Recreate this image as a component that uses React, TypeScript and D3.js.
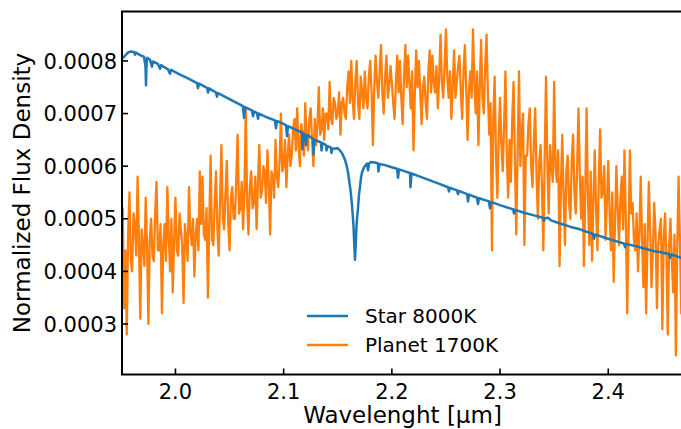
import { useEffect, useRef } from "react";
import * as d3 from "d3";

// flux values are in units of 1e-4
const planetStart = 1.95;
const planetStep = 0.00125;
const planetFlux = [
  4.6, 5.2, 3.3, 4.4, 2.8, 4.7, 5.5, 4.2, 4.0, 5.1, 4.9, 4.3, 5.8, 4.6, 3.1, 4.8, 4.5, 4.1, 5.4, 4.5,
  3.0, 4.6, 5.0, 4.3, 4.2, 5.1, 5.7, 4.4, 4.4, 4.9, 3.2, 4.5, 4.9, 4.2, 5.6, 4.7, 4.0, 5.0, 3.6, 4.6,
  5.4, 4.4, 4.3, 5.1, 4.8, 4.5, 3.4, 4.9, 4.6, 4.2, 5.6, 4.8, 4.5, 5.0, 3.9, 4.7, 5.0, 4.4, 5.9, 4.9,
  5.8, 4.7, 4.6, 5.2, 3.5, 4.9, 6.2, 4.6, 4.5, 5.3, 5.9, 4.8, 4.3, 5.4, 6.4, 5.0, 4.8, 5.5, 6.1, 4.9,
  4.4, 5.4, 5.6, 5.0, 5.0, 5.8, 6.6, 5.1, 5.2, 5.7, 4.8, 5.5, 7.1, 5.3, 4.7, 5.6, 5.9, 5.2, 5.3, 5.8,
  4.8, 5.7, 6.4, 5.4, 5.5, 6.0, 5.9, 5.3, 6.3, 5.7, 4.7, 5.9, 5.8, 5.4, 6.5, 5.8, 5.6, 6.1, 7.0, 5.9,
  6.0, 6.5, 5.6, 6.2, 6.6, 6.0, 6.2, 6.7, 6.9, 6.3, 7.1, 6.4, 6.0, 6.8, 6.6, 6.2, 7.2, 6.5, 6.3, 6.9,
  7.1, 6.5, 6.0, 6.9, 6.4, 6.8, 7.5, 6.6, 6.7, 7.1, 6.5, 7.0, 7.0, 6.7, 7.6, 6.9, 6.8, 7.3, 7.2, 6.9,
  7.0, 7.4, 6.6, 7.2, 7.3, 7.0, 6.9, 7.5, 7.8, 7.2, 8.0, 7.3, 6.9, 7.6, 8.0, 7.2, 6.9, 7.7, 7.4, 7.1,
  7.8, 7.3, 7.1, 7.7, 8.0, 7.4, 6.4, 7.5, 8.1, 7.6, 7.3, 7.8, 8.3, 7.4, 7.0, 7.7, 8.1, 7.3, 7.5, 7.9,
  7.6, 7.2, 6.9, 7.6, 8.1, 7.4, 8.0, 7.3, 6.8, 7.7, 8.3, 7.5, 8.1, 7.6, 7.1, 7.8, 6.3, 7.4, 8.2, 7.5,
  8.0, 7.4, 6.8, 7.5, 7.7, 7.2, 6.9, 7.8, 8.2, 7.4, 8.1, 7.6, 7.4, 7.9, 7.1, 7.7, 8.5, 7.6, 7.3, 7.9,
  8.6, 7.7, 7.3, 7.8, 6.9, 7.5, 8.2, 7.3, 7.6, 7.9, 8.1, 7.4, 6.9, 7.8, 8.3, 7.5, 6.5, 7.4, 7.8, 7.3,
  8.6, 7.6, 7.0, 7.8, 6.4, 7.5, 8.4, 7.3, 7.0, 7.9, 8.5, 7.4, 6.6, 7.2, 4.4, 6.9, 7.7, 6.2, 5.4, 6.6,
  7.3, 6.4, 5.9, 6.8, 7.8, 6.2, 5.4, 6.5, 5.7, 6.9, 7.6, 6.1, 4.7, 6.3, 7.8, 6.0, 6.6, 7.0, 4.5, 6.2,
  6.2, 6.8, 7.1, 6.0, 5.6, 6.5, 7.1, 5.8, 5.0, 6.1, 6.4, 5.6, 4.4, 6.2, 7.7, 6.0, 5.1, 6.4, 6.0, 5.7,
  7.6, 6.0, 5.7, 6.3, 4.1, 5.6, 6.6, 5.4, 4.5, 5.9, 6.2, 5.3, 5.0, 6.1, 6.6, 5.5, 5.1, 6.0, 7.1, 5.8,
  5.0, 5.8, 4.1, 5.5, 7.1, 5.4, 4.5, 5.9, 4.2, 5.3, 6.3, 5.2, 4.4, 5.7, 6.7, 5.4, 5.5, 6.0, 4.6, 5.3,
  6.1, 5.1, 4.4, 5.5, 3.8, 4.9, 6.0, 5.2, 4.5, 5.4, 5.8, 4.8, 6.3, 5.0, 3.2, 4.7, 6.3, 5.1, 5.3, 4.6,
  4.4, 5.1, 4.0, 4.7, 5.8, 4.6, 3.7, 4.9, 3.2, 4.5, 5.7, 4.8, 3.7, 4.4, 5.3, 4.7, 3.3, 4.5, 4.8, 5.0,
  2.9, 4.6, 5.1, 4.3, 2.8, 4.5, 5.0, 4.2, 3.6, 4.7, 2.4, 4.4, 5.8, 4.6, 3.2, 4.5,
];

const starWave = [
  1.9506, 1.9561, 1.9589, 1.9617, 1.9626, 1.9635, 1.9672, 1.9709, 1.9723, 1.9728,
  1.9732, 1.9737, 1.9765, 1.9783, 1.9792, 1.9839, 1.9857, 1.9866, 1.9931, 1.995,
  1.9959, 2.0042, 2.0107, 2.0199, 2.0208, 2.0218, 2.0292, 2.0301, 2.031, 2.0375,
  2.0384, 2.0393, 2.0504, 2.0624, 2.0634, 2.0643, 2.0707, 2.0717, 2.0726, 2.0754,
  2.0763, 2.0772, 2.0855, 2.092, 2.0929, 2.0938, 2.1022, 2.1031, 2.104, 2.1114,
  2.117, 2.1174, 2.1183, 2.1197, 2.1207, 2.1216, 2.1244, 2.1271, 2.1276, 2.1285,
  2.1345, 2.135, 2.1359, 2.1391, 2.1396, 2.1405, 2.1438, 2.1442, 2.1451, 2.1502,
  2.1539, 2.1567, 2.1581, 2.1595, 2.1613, 2.1623, 2.1632, 2.1646, 2.1653, 2.1659,
  2.1666, 2.1673, 2.168, 2.1687, 2.1696, 2.1706, 2.1715, 2.1724, 2.1743, 2.177,
  2.178, 2.1789, 2.1807, 2.1844, 2.1872, 2.1876, 2.1886, 2.1937, 2.1983, 2.2048,
  2.2057, 2.2066, 2.2122, 2.2168, 2.2172, 2.2182, 2.226, 2.2353, 2.2445, 2.2519,
  2.2528, 2.2537, 2.2602, 2.2611, 2.262, 2.2695, 2.2704, 2.2713, 2.2787, 2.2796,
  2.2806, 2.2898, 2.2907, 2.2916, 2.2999, 2.312, 2.3129, 2.3138, 2.323, 2.3323,
  2.3397, 2.3406, 2.3415, 2.3443, 2.3471, 2.3554, 2.3646, 2.3739, 2.3859, 2.3868,
  2.3877, 2.397, 2.4062, 2.4145, 2.4155, 2.4164, 2.4256, 2.434, 2.4432, 2.4478,
  2.4561, 2.4571, 2.458, 2.4617, 2.4672, 2.4709,
];
const starFlux = [
  8.04, 8.16, 8.18, 8.17, 8.12, 8.16, 8.11, 8.08, 7.9, 7.54,
  7.9, 8.06, 8.02, 7.89, 7.99, 7.94, 7.85, 7.92, 7.84, 7.76,
  7.83, 7.74, 7.68, 7.58, 7.48, 7.57, 7.49, 7.4, 7.48, 7.4,
  7.32, 7.39, 7.27, 7.14, 6.92, 7.12, 7.06, 6.95, 7.04, 7.01,
  6.9, 7.0, 6.92, 6.87, 6.72, 6.86, 6.78, 6.57, 6.76, 6.69,
  6.64, 6.32, 6.62, 6.6, 6.4, 6.59, 6.56, 6.52, 6.22, 6.5,
  6.45, 6.3, 6.44, 6.4, 6.3, 6.38, 6.35, 6.25, 6.33, 6.34,
  6.25, 6.12, 6.02, 5.88, 5.62, 5.45, 5.25, 4.85, 4.5, 4.22,
  4.5, 4.85, 5.05, 5.2, 5.45, 5.62, 5.78, 5.88, 5.98, 6.05,
  5.92, 6.05, 6.08, 6.07, 6.05, 5.9, 6.04, 6.02, 5.99, 5.95,
  5.78, 5.94, 5.9, 5.87, 5.6, 5.86, 5.8, 5.73, 5.66, 5.6,
  5.52, 5.59, 5.54, 5.47, 5.53, 5.47, 5.33, 5.46, 5.4, 5.28,
  5.39, 5.33, 5.2, 5.32, 5.26, 5.18, 5.1, 5.17, 5.11, 5.06,
  5.02, 4.96, 5.01, 5.02, 4.97, 4.91, 4.85, 4.8, 4.71, 4.62,
  4.7, 4.64, 4.58, 4.53, 4.46, 4.52, 4.48, 4.43, 4.38, 4.37,
  4.33, 4.26, 4.32, 4.3, 4.26, 4.25,
];

const yTicks = [3, 4, 5, 6, 7, 8];
const xTicks = [2.0, 2.1, 2.2, 2.3, 2.4];
const seriesNames = ["Star 8000K", "Planet 1700K"];
const seriesColors = ["#1f77b4", "#ff7f0e"];

const W = 681;
const H = 429;
const FONT = "DejaVu Sans, sans-serif";

const App = () => {
  const svgRef = useRef(null);

  useEffect(() => {
    if (!svgRef.current) return;
    const svg = d3.select(svgRef.current);
    svg.selectAll("*").remove();

    const left = 122, right = 683, top = 11.5, bottom = 374.5;
    const x = d3.scaleLinear([1.9506, 1.9506 + (right - left) / 1082], [left, right]);
    const y = d3.scaleLinear([2.04, 8.94], [bottom, top]);

    svg.append("defs").append("clipPath").attr("id", "plotClip")
      .append("rect")
      .attr("x", left).attr("y", top)
      .attr("width", right - left).attr("height", bottom - top);

    const planet = planetFlux.map((v, i) => ({ w: planetStart + i * planetStep, f: v }));
    const star = starWave.map((w, i) => ({ w, f: starFlux[i] }));

    const line = d3.line().x((d) => x(d.w)).y((d) => y(d.f));

    const plot = svg.append("g").attr("clip-path", "url(#plotClip)");
    plot.append("path")
      .datum(planet)
      .attr("d", line)
      .attr("fill", "none")
      .attr("stroke", seriesColors[1])
      .attr("stroke-width", 2.3)
      .attr("stroke-linejoin", "round");
    plot.append("path")
      .datum(star)
      .attr("d", line)
      .attr("fill", "none")
      .attr("stroke", seriesColors[0])
      .attr("stroke-width", 2.5)
      .attr("stroke-linejoin", "round");

    // ticks (inward)
    const fmt = (v) => (v * 1e-4).toFixed(4);
    yTicks.forEach((t) => {
      svg.append("line")
        .attr("x1", left).attr("x2", left + 6)
        .attr("y1", y(t)).attr("y2", y(t))
        .attr("stroke", "black").attr("stroke-width", 1.6);
      svg.append("text")
        .attr("x", left - 5).attr("y", y(t))
        .attr("dy", "0.36em")
        .attr("text-anchor", "end")
        .style("font-family", FONT).style("font-size", "21px")
        .text(fmt(t));
    });
    xTicks.forEach((t) => {
      svg.append("line")
        .attr("x1", x(t)).attr("x2", x(t))
        .attr("y1", bottom).attr("y2", bottom - 6)
        .attr("stroke", "black").attr("stroke-width", 1.6);
      svg.append("text")
        .attr("x", x(t)).attr("y", bottom + 24)
        .attr("text-anchor", "middle")
        .style("font-family", FONT).style("font-size", "21px")
        .text(t.toFixed(1));
    });

    // frame
    svg.append("rect")
      .attr("x", left).attr("y", top)
      .attr("width", right - left).attr("height", bottom - top)
      .attr("fill", "none").attr("stroke", "black").attr("stroke-width", 2);

    svg.append("text")
      .attr("x", (left + right) / 2).attr("y", 423)
      .attr("text-anchor", "middle")
      .style("font-family", FONT).style("font-size", "23px")
      .text("Wavelenght [µm]");
    svg.append("text")
      .attr("transform", `translate(30, ${(top + bottom) / 2}) rotate(-90)`)
      .attr("text-anchor", "middle")
      .style("font-family", FONT).style("font-size", "23px")
      .text("Normalized Flux Density");

    // legend
    const lg = svg.append("g").attr("transform", "translate(307, 316)");
    seriesNames.forEach((name, i) => {
      const row = lg.append("g").attr("transform", `translate(0, ${i * 29})`);
      row.append("line")
        .attr("x1", 0).attr("x2", 41).attr("y1", 0).attr("y2", 0)
        .attr("stroke", seriesColors[i]).attr("stroke-width", 2.5);
      row.append("text")
        .attr("x", 58).attr("y", 0).attr("dy", "0.36em")
        .style("font-family", FONT).style("font-size", "20px")
        .text(name);
    });
  }, []);

  return (
    <svg
      ref={svgRef}
      width={W}
      height={H}
      style={{ position: "absolute", left: 0, top: 0, background: "white" }}
    />
  );
};

export default App;
